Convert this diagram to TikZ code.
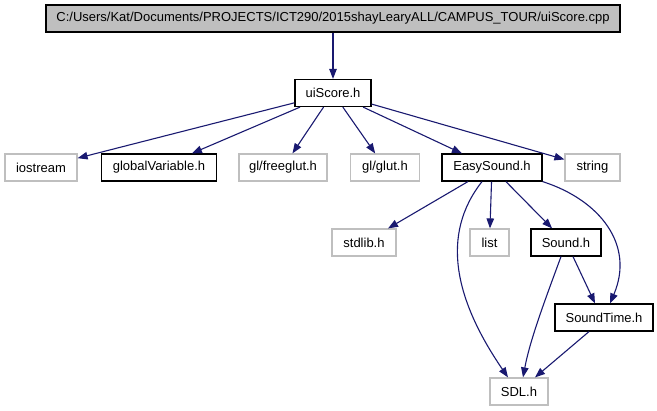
\documentclass[tikz,border=0pt]{standalone}
\usepackage{fontspec}
\setmainfont{Liberation Sans}
\usetikzlibrary{
  arrows.meta,
  calc
}
\definecolor{edgeblue}{RGB}{25, 25, 112}
\definecolor{boxgray}{RGB}{191, 191, 191}
\tikzset{
  % Fayl qutilari
  docbox/.style  = {draw=black, line width=1.2pt, fill=white, inner sep=0pt,
                    minimum height=27pt, font=\fontsize{13}{15}\selectfont},
  extbox/.style  = {docbox, draw=boxgray},
  rootbox/.style = {docbox, fill=boxgray},
  % Include strelkalari
  incl/.style    = {draw=edgeblue, line width=1.1pt, -{Triangle[length=10pt, width=7.5pt]}},
}

\begin{document}
\begin{tikzpicture}[x=1pt, y=-1pt]
  \useasboundingbox (0,0) rectangle (657,411);
  % Qutilar
  \node[rootbox, minimum width=574pt] (cpp) at (333, 18.5)
    {C:/Users/Kat/Documents/PROJECTS/ICT290/2015shayLearyALL/CAMPUS\_TOUR/uiScore.cpp};
  \node[docbox, minimum width=76pt]  (ui)     at (333, 93)    {uiScore.h};
  \node[extbox, minimum width=72pt]  (io)     at (41, 167.5)  {iostream};
  \node[docbox, minimum width=115pt] (gvar)   at (159, 167.5) {globalVariable.h};
  \node[extbox, minimum width=88pt]  (fglut)  at (283, 167.5) {gl/freeglut.h};
  \node[extbox, minimum width=69pt]  (glut)   at (385, 167.5) {gl/glut.h};
  \node[docbox, minimum width=100pt] (easy)   at (492, 167.5) {EasySound.h};
  \node[extbox, minimum width=55pt]  (str)    at (592.5, 167.5) {string};
  \node[extbox, minimum width=64pt]  (stdlib) at (364, 242.5) {stdlib.h};
  \node[extbox, minimum width=39pt]  (list)   at (489.5, 242.5) {list};
  \node[docbox, minimum width=70pt]  (sound)  at (566, 242.5) {Sound.h};
  \node[docbox, minimum width=98pt]  (stime)  at (604, 317.5) {SoundTime.h};
  \node[extbox, minimum width=58pt]  (sdl)    at (519, 391.5) {SDL.h};
  % Strelkalar
  \draw[incl] (cpp) -- (ui);
  \draw[incl] (ui) -- (io);
  \draw[incl] (ui) -- (gvar);
  \draw[incl] (ui) -- (fglut);
  \draw[incl] (ui) -- (glut);
  \draw[incl] (ui) -- (easy);
  \draw[incl] (ui) -- (str);
  \draw[incl] (easy) -- (stdlib);
  \draw[incl] (easy) -- (list);
  \draw[incl] (easy) -- (sound);
  \draw[incl] ($(easy.south)+(-10,0)$) .. controls (440,235) and (455,300) .. ($(sdl.north)+(-11,0)$);
  \draw[incl] (easy.south east) .. controls (600,200) and (635,245) .. ($(stime.north)+(6,0)$);
  \draw[incl] ($(sound.south)+(-5,0)$) .. controls (545,300) and (530,340) .. ($(sdl.north)+(4,0)$);
  \draw[incl] ($(sound.south)+(7,0)$) -- ($(stime.north)+(-9,0)$);
  \draw[incl] ($(stime.south)+(-15,0)$) -- ($(sdl.north)+(16,0)$);
\end{tikzpicture}
\end{document}
